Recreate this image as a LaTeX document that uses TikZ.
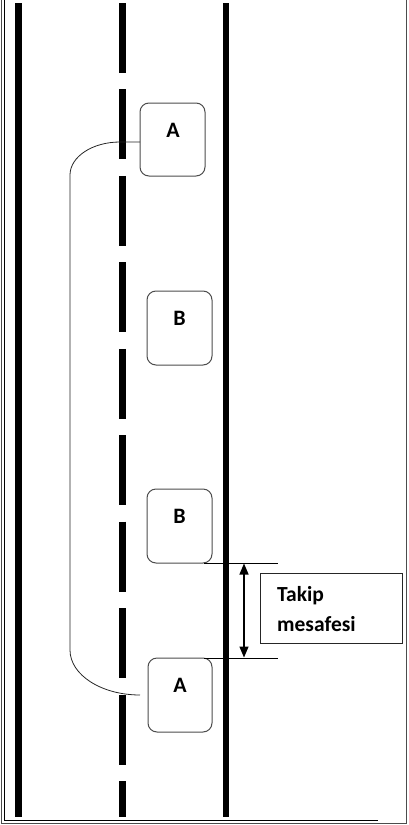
\documentclass[tikz,border=0pt]{standalone}
\usepackage{fontspec}
\setmainfont{Carlito}
\usetikzlibrary{arrows.meta}
\begin{document}
\begin{tikzpicture}[x=1pt,y=-1pt,
  roadline/.style={line width=6.5pt,black},
  car/.style={draw=black!70,line width=1pt,rounded corners=9pt},
  carlabel/.style={anchor=base,font=\bfseries\fontsize{22}{26}\selectfont,inner sep=0pt},
  boxtext/.style={anchor=base west,inner sep=0pt,font=\bfseries\fontsize{21.5}{26}\selectfont},
  thinline/.style={line width=0.8pt,black},
  frameline/.style={line width=1pt}]
\useasboundingbox (0,0) rectangle (409,825);
% frame
\draw[frameline,black!70] (1.5,0) -- (1.5,823.5) -- (406.8,823.5) -- (406.8,0);
\draw[frameline,black] (4.5,0) -- (4.5,820.5) -- (378,820.5);
% road lines
\draw[roadline] (18.5,3) -- (18.5,817);
\draw[roadline] (226,3) -- (226,817);
\draw[line width=7pt,dash pattern=on 70pt off 16.45pt] (122,3) -- (122,817);
% cars
\draw[car] (140,103) rectangle (205,176);
\draw[car] (147,291) rectangle (212,365);
\draw[car] (147,489) rectangle (212,563);
\draw[car] (148,658) rectangle (212,732);
\node[carlabel] (a1) at (173,137) {A};
\node[carlabel] (b1) at (179.5,325) {B};
\node[carlabel] (b2) at (179.5,523) {B};
\node[carlabel] (a2) at (180,692) {A};
% overtaking path
\coordinate (p1) at (140,142);
\coordinate (p2) at (140,695);
\draw[thinline,black!85] (p1) -- (120,142) arc[start angle=90,end angle=180,x radius=50,y radius=-33]
  -- (70,650) arc[start angle=180,end angle=270,x radius=70,y radius=-45] -- (p2);
% measurement
\coordinate (m1) at (204,563);
\coordinate (m2) at (278,563);
\coordinate (m3) at (204,658);
\coordinate (m4) at (278,658);
\draw[thinline] (m1) -- (m2);
\draw[thinline] (m3) -- (m4);
\coordinate (t1) at (244,563.5);
\coordinate (t2) at (244,657.5);
\draw[line width=1.3pt,{Triangle[length=11pt,width=9pt]}-{Triangle[length=11pt,width=9pt]}] (t1) -- (t2);
\draw[line width=1pt,black!85] (260,573) rectangle (402,643);
\node[boxtext] (tk) at (277,601) {Takip};
\node[boxtext] (ms) at (277,631) {mesafesi};
\end{tikzpicture}
\end{document}
